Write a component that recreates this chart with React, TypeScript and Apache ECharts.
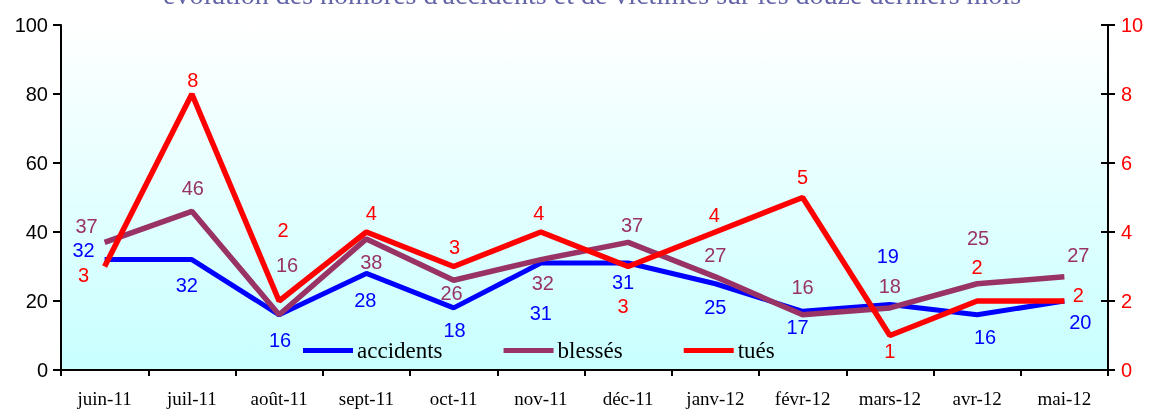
import React, { useEffect, useRef } from "react";
import * as echarts from "echarts";

const categories = ["juin-11", "juil-11", "août-11", "sept-11", "oct-11", "nov-11", "déc-11", "janv-12", "févr-12", "mars-12", "avr-12", "mai-12"];
const accidents = [32, 32, 16, 28, 18, 31, 31, 25, 17, 19, 16, 20];
const blesses = [37, 46, 16, 38, 26, 32, 37, 27, 16, 18, 25, 27];
const tues = [3, 8, 2, 4, 3, 4, 3, 4, 5, 1, 2, 2];
const leftTicks = [0, 20, 40, 60, 80, 100];
const rightTicks = [0, 2, 4, 6, 8, 10];

// label offsets (style only)
const accOffsets = [[-21, -10], [-5, 25], [1, 25], [-1, 27], [1, 22], [0, 50], [-5, 19], [0, 23], [-5, 16], [-2, -48], [8, 22], [16, 21]];
const blesOffsets = [[-18, -16], [1, -23], [8, -50], [5, 23], [-2, 13], [2, 23], [4, -17], [0, -22], [0, -28], [0, -22], [1, -46], [14, -22]];
const tuesOffsets = [[-21, 8], [1, -14], [4, -71], [5, -19], [1, -20], [-2, -19], [-5, 39], [-1, -17], [0, -21], [0, 15], [0, -34], [14, -6]];

const TITLE = "évolution des nombres d'accidents et de victimes sur les douze derniers mois";
const SERIF = "'Liberation Serif', 'Times New Roman', serif";
const SANS = "'Liberation Sans', Arial, sans-serif";

const colors = { accidents: "#0000ff", blesses: "#993366", tues: "#ff0000" };

function mk(name: string, values: number[], offsets: number[][], color: string, width: number, yAxisIndex: number) {
  return {
    name,
    type: "line",
    yAxisIndex,
    symbol: "circle",
    symbolSize: 1,
    itemStyle: { color: "transparent" },
    lineStyle: { color, width },
    emphasis: { disabled: true },
    label: {
      show: true,
      position: "inside",
      color,
      fontSize: 20,
      fontFamily: SANS,
    },
    data: values.map((v, i) => ({ value: v, label: { offset: offsets[i] } })),
  };
}

export default function App() {
  const ref = useRef<HTMLDivElement>(null);
  useEffect(() => {
    if (!ref.current) return;
    const chart = echarts.init(ref.current, null, { renderer: "svg" });
    chart.setOption({
      animation: false,
      graphic: [
        {
          type: "text",
          x: 592,
          y: 8,
          z: 100,
          style: {
            text: TITLE,
            font: "28px " + SERIF,
            fill: "#6464a8",
            textAlign: "center",
            textVerticalAlign: "bottom",
          },
        },
      ],
      grid: {
        left: 61,
        right: 41,
        top: 25,
        bottom: 39,
        show: true,
        borderWidth: 0,
        backgroundColor: new echarts.graphic.LinearGradient(0, 0, 0, 1, [
          { offset: 0, color: "#ffffff" },
          { offset: 1, color: "#c8ffff" },
        ]),
      },
      legend: {
        left: 303,
        top: 339,
        padding: 0,
        icon: "rect",
        itemWidth: 50,
        itemHeight: 5,
        itemGap: 61,
        textStyle: { fontSize: 23, color: "#000", fontFamily: SERIF, padding: [0, 0, 0, -1] },
        data: [
          { name: "accidents", itemStyle: { color: colors.accidents } },
          { name: "blessés", itemStyle: { color: colors.blesses } },
          { name: "tués", itemStyle: { color: colors.tues } },
        ],
        selectedMode: false,
      },
      xAxis: {
        type: "category",
        data: categories,
        boundaryGap: true,
        axisLine: { lineStyle: { color: "#000", width: 2 } },
        axisTick: { show: true, length: 6, lineStyle: { color: "#000", width: 2 } },
        axisLabel: { color: "#000", fontSize: 19, fontFamily: SERIF, margin: 19 },
        splitLine: { show: false },
      },
      yAxis: [
        {
          type: "value",
          min: leftTicks[0],
          max: leftTicks[leftTicks.length - 1],
          interval: 20,
          position: "left",
          axisLine: { show: true, lineStyle: { color: "#000", width: 2 } },
          axisTick: { show: true, length: 8, lineStyle: { color: "#000", width: 2 } },
          axisLabel: { color: "#000", fontSize: 20, fontFamily: SANS, margin: 13 },
          splitLine: { show: false },
        },
        {
          type: "value",
          min: rightTicks[0],
          max: rightTicks[rightTicks.length - 1],
          interval: 2,
          position: "right",
          axisLine: { show: true, lineStyle: { color: "#000", width: 2 } },
          axisTick: { show: true, length: 7, lineStyle: { color: "#000", width: 2 } },
          axisLabel: { color: "#ff0000", fontSize: 20, fontFamily: SANS, margin: 13 },
          splitLine: { show: false },
        },
        {
          type: "value",
          min: rightTicks[0],
          max: rightTicks[rightTicks.length - 1],
          interval: 2,
          position: "right",
          axisLine: { show: false },
          axisTick: { show: true, inside: true, length: 7, lineStyle: { color: "#000", width: 2 } },
          axisLabel: { show: false },
          splitLine: { show: false },
        },
      ],
      series: [
        mk("accidents", accidents, accOffsets, colors.accidents, 5, 0),
        mk("blessés", blesses, blesOffsets, colors.blesses, 5.5, 0),
        mk("tués", tues, tuesOffsets, colors.tues, 5.5, 1),
      ],
    });
    return () => chart.dispose();
  }, []);
  return <div ref={ref} style={{ position: "fixed", left: 0, top: 0, width: 1149, height: 409 }} />;
}
